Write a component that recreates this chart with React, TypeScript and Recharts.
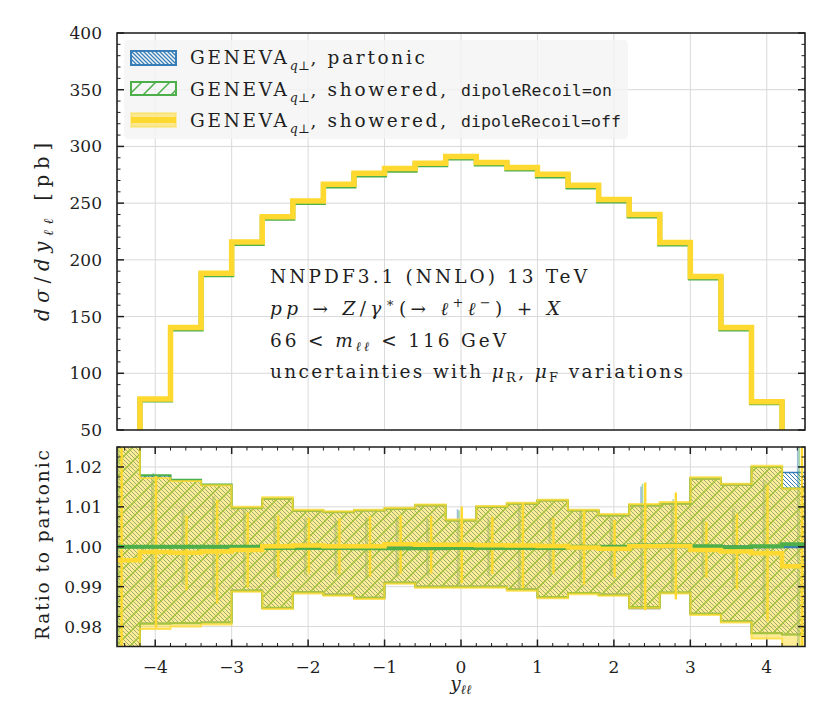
import React from "react";
import {
  ComposedChart,
  Line,
  Area,
  Scatter,
  ErrorBar,
  XAxis,
  YAxis,
  ReferenceLine,
  ReferenceArea,
} from "recharts";

// bin edges of the histogram (outer bins run past the axis range)
const EDGES = [-4.7, -4.2, -3.8, -3.4, -3.0, -2.6, -2.2, -1.8, -1.4, -1.0, -0.6, -0.2, 0.2, 0.6, 1.0, 1.4, 1.8, 2.2, 2.6, 3.0, 3.4, 3.8, 4.2, 4.7];
const CENTERS = [-4.45, -4.0, -3.6, -3.2, -2.8, -2.4, -2.0, -1.6, -1.2, -0.8, -0.4, 0, 0.4, 0.8, 1.2, 1.6, 2.0, 2.4, 2.8, 3.2, 3.6, 4.0, 4.45];

// dsigma/dy [pb]
const BLUE_TOP = [30, 77.3, 140.2, 188.2, 215.6, 237.8, 251.6, 266.4, 276.0, 280.3, 285.0, 290.8, 285.5, 281.1, 275.1, 265.5, 253.1, 239.8, 215.0, 185.2, 140.2, 74.9, 30];
const GREEN_TOP = [30, 76.4, 139.0, 186.9, 214.4, 236.7, 250.5, 265.2, 274.9, 279.1, 283.8, 289.7, 284.4, 280.0, 274.0, 264.3, 251.9, 238.6, 213.9, 184.0, 139.1, 74.0, 30];
const YELLOW_TOP = [30, 77.4, 140.3, 188.3, 215.8, 238.0, 251.8, 266.6, 276.3, 280.5, 285.2, 291.1, 285.8, 281.4, 275.4, 265.7, 253.3, 240.0, 215.2, 185.3, 140.3, 75.0, 30];

// ratio to partonic, central values
const BLUE_RATIO = [1, 1, 1, 1, 1, 1, 1, 1, 1, 1, 1, 1, 1, 1, 1, 1, 1, 1, 1, 1, 1, 1, 1];
const GREEN_RATIO = [1.0, 1.0, 1.0, 1.0, 1.0, 0.9997, 0.9997, 0.9997, 0.9996, 0.9996, 0.9996, 0.9997, 0.9997, 0.9997, 0.9997, 1.0, 1.0, 1.0003, 1.0004, 1.0001, 0.9999, 1.0001, 1.0006];
const YELLOW_RATIO = [0.9966, 0.9987, 0.9985, 0.9988, 0.9992, 1.0001, 1.0003, 1.0001, 1.0001, 1.0006, 1.0005, 1.0005, 1.0004, 1.0003, 1.0002, 0.9998, 0.9995, 1.0001, 1.0002, 0.9992, 0.9988, 0.9984, 0.9951];

// scale-variation bands
const BLUE_HI = [1.04, 1.0178, 1.0167, 1.0155, 1.0096, 1.0119, 1.0089, 1.0086, 1.0090, 1.0094, 1.0103, 1.0065, 1.0099, 1.0107, 1.0115, 1.0090, 1.0078, 1.0103, 1.0107, 1.0170, 1.0155, 1.0199, 1.0186];
const BLUE_LO = [0.96, 0.9808, 0.9809, 0.9811, 0.9891, 0.9846, 0.9887, 0.9881, 0.9873, 0.9911, 0.9901, 0.9901, 0.9901, 0.9894, 0.9873, 0.9885, 0.9881, 0.9845, 0.9885, 0.9833, 0.9814, 0.9784, 0.9780];
const GREEN_HI = [1.04, 1.0179, 1.0168, 1.0156, 1.0097, 1.0120, 1.0090, 1.0087, 1.0091, 1.0095, 1.0104, 1.0066, 1.0100, 1.0108, 1.0116, 1.0091, 1.0079, 1.0104, 1.0108, 1.0171, 1.0156, 1.0200, 1.0146];
const GREEN_LO = [0.96, 0.9807, 0.9808, 0.9810, 0.9890, 0.9847, 0.9886, 0.9880, 0.9872, 0.9910, 0.9900, 0.9900, 0.9900, 0.9893, 0.9874, 0.9884, 0.9880, 0.9849, 0.9886, 0.9832, 0.9813, 0.9783, 0.9780];
const YELLOW_HI = [1.04, 1.0172, 1.0165, 1.0154, 1.0100, 1.0124, 1.0093, 1.0089, 1.0093, 1.0098, 1.0106, 1.0068, 1.0102, 1.0110, 1.0118, 1.0093, 1.0082, 1.0107, 1.0112, 1.0174, 1.0158, 1.0203, 1.0146];
const YELLOW_LO = [0.96, 0.9794, 0.9800, 0.9805, 0.9887, 0.9844, 0.9883, 0.9877, 0.9869, 0.9907, 0.9897, 0.9897, 0.9897, 0.9890, 0.9871, 0.9881, 0.9877, 0.9846, 0.9883, 0.9829, 0.9810, 0.9770, 0.9700];

// statistical errors, [down, up]; the outer bins run off the panel
const BLUE_ERR = [[0.025, 0.025], 0.018, 0.0095, 0.0125, 0.0095, 0.0078, 0.0071, 0.0072, 0.0075, 0.0074, 0.0071, 0.0094, 0.0073, 0.0105, 0.0071, 0.0092, 0.0073, 0.0151, 0.0112, 0.0072, 0.0094, 0.0168, [0.025, 0.025]];
const GREEN_ERR = [[0.025, 0.025], 0.0185, 0.0096, 0.0128, 0.0092, 0.0079, 0.0072, 0.0069, 0.0077, 0.0072, 0.0074, 0.0094, 0.0071, 0.0104, 0.0072, 0.0091, 0.0074, 0.0155, 0.0115, 0.0071, 0.0097, 0.0165, [0.0256, 0.0244]];
const YELLOW_ERR = [[0.0216, 0.0284], 0.019, 0.0094, 0.013, 0.0094, 0.0077, 0.007, 0.007, 0.0076, 0.0073, 0.0072, 0.0096, 0.0072, 0.0107, 0.007, 0.0093, 0.0072, 0.016, 0.0134, 0.007, 0.0095, 0.017, [0.0201, 0.0299]];

// ticks
const X_TICKS = [-4, -3, -2, -1, 0, 1, 2, 3, 4];
const TOP_Y_TICKS = [50, 100, 150, 200, 250, 300, 350, 400];
const RATIO_Y_TICKS = [0.98, 0.99, 1.0, 1.01, 1.02];

// legend
const LEGEND_TAILS = [", partonic", ", showered,", ", showered,"];
const LEGEND_MONO = ["", "dipoleRecoil=on", "dipoleRecoil=off"];

const FONT = "'DejaVu Serif', 'Liberation Serif', serif";
const MONO = "'DejaVu Sans Mono', 'Liberation Mono', monospace";
const BLUE = "#377eb8";
const GREEN = "#4daf4a";
const YELLOW = "#ffd92f";
const INK = "#1f1f1f";
const GRID = "#d9d9d9";

const PLOT_RIGHT = 805;

function withMinor(major: number[], parts: number, lo: number, hi: number) {
  const step = (major[1] - major[0]) / parts;
  const out: number[] = [];
  const n0 = Math.round(lo / step);
  const n1 = Math.round(hi / step);
  for (let n = n0; n <= n1; n++) out.push(+(n * step).toFixed(6));
  return out;
}

const X_ALL = withMinor(X_TICKS, 5, -4.4, 4.4);
const TOP_Y_ALL = withMinor(TOP_Y_TICKS, 5, 50, 400);
const RATIO_Y_ALL = withMinor(RATIO_Y_TICKS, 4, 0.975, 1.025);

const isMajor = (list: number[], v: number) => list.some((t) => Math.abs(t - v) < 1e-6);
const fmtX = (v: number) => (v < 0 ? `\u2212${-v}` : `${v}`);

const makeXTick = (plotTop: number, labels: boolean) => (props: any) => {
  const { x, y, payload } = props;
  const major = isMajor(X_TICKS, payload.value);
  const len = major ? 7 : 3.5;
  const w = major ? 1.5 : 1;
  return (
    <g>
      <line x1={x} x2={x} y1={y} y2={y - len} stroke={INK} strokeWidth={w} />
      <line x1={x} x2={x} y1={plotTop} y2={plotTop + len} stroke={INK} strokeWidth={w} />
      {labels && major && (
        <text x={x} y={y + 26} textAnchor="middle" fontFamily={FONT} fontSize={17} fill={INK}>
          {fmtX(payload.value)}
        </text>
      )}
    </g>
  );
};

const makeYTick = (majors: number[], fmt: (v: number) => string) => (props: any) => {
  const { x, y, payload } = props;
  const major = isMajor(majors, payload.value);
  const len = major ? 7 : 3.5;
  const w = major ? 1.5 : 1;
  return (
    <g>
      <line x1={x} x2={x + len} y1={y} y2={y} stroke={INK} strokeWidth={w} />
      <line x1={PLOT_RIGHT - len} x2={PLOT_RIGHT} y1={y} y2={y} stroke={INK} strokeWidth={w} />
      {major && (
        <text x={x - 15} y={y + 6} textAnchor="end" fontFamily={FONT} fontSize={17} fill={INK}>
          {fmt(payload.value)}
        </text>
      )}
    </g>
  );
};

const hideDot = () => <g />;

export default function App() {
  const last = CENTERS.length - 1;
  const topRows = EDGES.map((x, i) => {
    const j = Math.min(i, last);
    return { x, blue: BLUE_TOP[j], green: GREEN_TOP[j], yellow: YELLOW_TOP[j] };
  });
  const ratioRows = EDGES.map((x, i) => {
    const j = Math.min(i, last);
    return {
      x,
      blue: BLUE_RATIO[j],
      green: GREEN_RATIO[j],
      yellow: YELLOW_RATIO[j],
      blueBand: [BLUE_LO[j], BLUE_HI[j]],
      greenBand: [GREEN_LO[j], GREEN_HI[j]],
      yellowBand: [YELLOW_LO[j], YELLOW_HI[j]],
    };
  });
  // small horizontal offsets so the three error bars of a bin sit side by side
  const blueErr = CENTERS.map((c, i) => ({ x: c - 0.045, y: BLUE_RATIO[i], err: BLUE_ERR[i] }));
  const greenErr = CENTERS.map((c, i) => ({ x: c - 0.025, y: GREEN_RATIO[i], err: GREEN_ERR[i] }));
  const yellowErr = CENTERS.map((c, i) => ({ x: c + 0.01, y: YELLOW_RATIO[i], err: YELLOW_ERR[i] }));

  const txt = { fontFamily: FONT, fontSize: 18.5, fill: INK } as const;

  return (
    <div style={{ position: "absolute", left: 0, top: 0, width: 830, height: 720, background: "#fff" }}>
      <div style={{ position: "absolute", left: 0, top: 0 }}>
        <ComposedChart width={830} height={440} data={topRows} margin={{ top: 33, right: 25, bottom: 10, left: 0 }}>
          <XAxis dataKey="x" type="number" domain={[-4.5, 4.5]} allowDataOverflow ticks={X_ALL} interval={0}
            height={0} tickSize={0} tickMargin={0} axisLine={false} tickLine={false} tick={makeXTick(33, false)} zIndex={700} />
          <YAxis type="number" domain={[50, 400]} allowDataOverflow ticks={TOP_Y_ALL} interval={0}
            width={117} tickSize={0} tickMargin={0} axisLine={false} tickLine={false}
            tick={makeYTick(TOP_Y_TICKS, (v) => `${v}`)} zIndex={700} />
          {X_TICKS.map((v) => (
            <ReferenceLine key={`gx${v}`} x={v} stroke={GRID} strokeWidth={1} zIndex={-100} />
          ))}
          {TOP_Y_TICKS.map((v) => (
            <ReferenceLine key={`gy${v}`} y={v} stroke={GRID} strokeWidth={1} zIndex={-100} />
          ))}
          <Line dataKey="blue" type="stepAfter" stroke={BLUE} strokeWidth={3} dot={false} activeDot={false} isAnimationActive={false} zIndex={400} />
          <Line dataKey="green" type="stepAfter" stroke={GREEN} strokeWidth={5} dot={false} activeDot={false} isAnimationActive={false} zIndex={401} />
          <Line dataKey="yellow" type="stepAfter" stroke={YELLOW} strokeWidth={5.5} dot={false} activeDot={false} isAnimationActive={false} zIndex={402} />
          <ReferenceArea x1={-4.5} x2={4.5} y1={50} y2={400} fill="none" fillOpacity={0} stroke={INK} strokeWidth={1.6} zIndex={800} />
        </ComposedChart>
      </div>

      <div style={{ position: "absolute", left: 0, top: 440 }}>
        <ComposedChart width={830} height={280} data={ratioRows} margin={{ top: 7, right: 25, bottom: 13.5, left: 0 }}>
          <defs>
            <pattern id="hatchBlue" patternUnits="userSpaceOnUse" width="4" height="4">
              <path d="M-1,-1 L5,5 M-1,3 L1,5 M3,-1 L5,1" stroke={BLUE} strokeWidth={1} />
            </pattern>
            <pattern id="hatchGreen" patternUnits="userSpaceOnUse" width="14" height="14">
              <path d="M-1,15 L15,-1 M-1,1 L1,-1 M13,15 L15,13" stroke={GREEN} strokeWidth={1.5} />
            </pattern>
          </defs>
          <XAxis dataKey="x" type="number" domain={[-4.5, 4.5]} allowDataOverflow ticks={X_ALL} interval={0}
            height={60} tickSize={0} tickMargin={0} axisLine={false} tickLine={false} tick={makeXTick(7, true)} zIndex={700} />
          <YAxis type="number" domain={[0.975, 1.025]} allowDataOverflow ticks={RATIO_Y_ALL} interval={0}
            width={117} tickSize={0} tickMargin={0} axisLine={false} tickLine={false}
            tick={makeYTick(RATIO_Y_TICKS, (v) => v.toFixed(2))} zIndex={700} />
          {X_TICKS.map((v) => (
            <ReferenceLine key={`rx${v}`} x={v} stroke={GRID} strokeWidth={1} zIndex={-100} />
          ))}
          {RATIO_Y_TICKS.map((v) => (
            <ReferenceLine key={`ry${v}`} y={v} stroke={GRID} strokeWidth={1} zIndex={-100} />
          ))}
          <Area dataKey="blueBand" type="stepAfter" fill="url(#hatchBlue)" fillOpacity={1} stroke={BLUE} strokeWidth={1.5}
            dot={false} activeDot={false} isAnimationActive={false} zIndex={100} />
          <Area dataKey="greenBand" type="stepAfter" fill="url(#hatchGreen)" fillOpacity={1} stroke={GREEN} strokeWidth={2}
            dot={false} activeDot={false} isAnimationActive={false} zIndex={101} />
          <Scatter data={blueErr} dataKey="y" shape={hideDot} isAnimationActive={false} zIndex={102}>
            <ErrorBar dataKey="err" direction="y" width={0} stroke={BLUE} strokeOpacity={0.5} strokeWidth={1.6} isAnimationActive={false} zIndex={102} />
          </Scatter>
          <Scatter data={greenErr} dataKey="y" shape={hideDot} isAnimationActive={false} zIndex={103}>
            <ErrorBar dataKey="err" direction="y" width={0} stroke={GREEN} strokeOpacity={0.5} strokeWidth={1.6} isAnimationActive={false} zIndex={103} />
          </Scatter>
          <Area dataKey="yellowBand" type="stepAfter" fill={YELLOW} fillOpacity={0.5} stroke={YELLOW} strokeOpacity={0.75} strokeWidth={2}
            dot={false} activeDot={false} isAnimationActive={false} zIndex={104} />
          <Scatter data={yellowErr} dataKey="y" shape={hideDot} isAnimationActive={false} zIndex={105}>
            <ErrorBar dataKey="err" direction="y" width={0} stroke={YELLOW} strokeWidth={2.4} isAnimationActive={false} zIndex={105} />
          </Scatter>
          <Line dataKey="blue" type="stepAfter" stroke={BLUE} strokeWidth={3} dot={false} activeDot={false} isAnimationActive={false} zIndex={400} />
          <Line dataKey="green" type="stepAfter" stroke={GREEN} strokeWidth={4} dot={false} activeDot={false} isAnimationActive={false} zIndex={401} />
          <Line dataKey="yellow" type="stepAfter" stroke={YELLOW} strokeWidth={4.5} dot={false} activeDot={false} isAnimationActive={false} zIndex={402} />
          <ReferenceArea x1={-4.5} x2={4.5} y1={0.975} y2={1.025} fill="none" fillOpacity={0} stroke={INK} strokeWidth={1.6} zIndex={800} />
        </ComposedChart>
      </div>

      <svg width={830} height={720} style={{ position: "absolute", left: 0, top: 0, pointerEvents: "none" }}>
        <defs>
          <pattern id="legBlue" patternUnits="userSpaceOnUse" width="4" height="4">
            <path d="M-1,-1 L5,5 M-1,3 L1,5 M3,-1 L5,1" stroke={BLUE} strokeWidth={1.3} />
          </pattern>
          <pattern id="legGreen" patternUnits="userSpaceOnUse" width="14" height="14">
            <path d="M-1,15 L15,-1 M-1,1 L1,-1 M13,15 L15,13" stroke={GREEN} strokeWidth={1.5} />
          </pattern>
        </defs>

        {/* legend */}
        <rect x={124} y={40} width={504} height={99} rx={4} fill="#f4f4f4" fillOpacity={0.8} />
        <rect x={131} y={51} width={45} height={14} fill="url(#legBlue)" stroke={BLUE} strokeWidth={2} />
        <rect x={131} y={82} width={45} height={13} fill="url(#legGreen)" stroke={GREEN} strokeWidth={2} />
        <rect x={131} y={113} width={45} height={14} fill={YELLOW} fillOpacity={0.5} stroke={YELLOW} strokeOpacity={0.5} strokeWidth={1.5} />
        <line x1={131} x2={176} y1={120} y2={120} stroke={YELLOW} strokeWidth={6} />

        {[64, 95.5, 127].map((b, k) => (
          <g key={b}>
            <text {...txt} x={190} y={b} letterSpacing={2.7}>
              <tspan>GENEVA</tspan>
              <tspan dy={6} fontSize={12.5} letterSpacing={0.5}>
                <tspan fontStyle="italic">q</tspan>⊥
              </tspan>
              <tspan dy={-6}>{LEGEND_TAILS[k]}</tspan>
            </text>
            {LEGEND_MONO[k] && (
              <text x={461} y={b} fontFamily={MONO} fontSize={16.5} fill={INK} textLength={k === 1 ? 151 : 160} lengthAdjust="spacing">
                {LEGEND_MONO[k]}
              </text>
            )}
          </g>
        ))}

        {/* annotation */}
        <text {...txt} x={270} y={283} textLength={317} lengthAdjust="spacing">NNPDF3.1 (NNLO) 13 TeV</text>
        <text {...txt} x={270} y={315} textLength={290} lengthAdjust="spacing">
          <tspan fontStyle="italic">pp</tspan>
          <tspan>{" \u2192 "}</tspan>
          <tspan fontStyle="italic">Z</tspan>
          <tspan>/</tspan>
          <tspan fontStyle="italic">γ</tspan>
          <tspan dy={-8} fontSize={13}>∗</tspan>
          <tspan dy={8}>{"(\u2192 "}</tspan>
          <tspan fontStyle="italic">ℓ</tspan>
          <tspan dy={-8} fontSize={13}>+</tspan>
          <tspan dy={8} fontStyle="italic">ℓ</tspan>
          <tspan dy={-8} fontSize={13}>−</tspan>
          <tspan dy={8}>{") + "}</tspan>
          <tspan fontStyle="italic">X</tspan>
        </text>
        <text {...txt} x={270} y={347} textLength={236} lengthAdjust="spacing">
          <tspan>{"66 < "}</tspan>
          <tspan fontStyle="italic">m</tspan>
          <tspan dy={4} fontSize={13} fontStyle="italic">ℓℓ</tspan>
          <tspan dy={-4}>{" < 116 GeV"}</tspan>
        </text>
        <text {...txt} x={270} y={377.5} textLength={413} lengthAdjust="spacing">
          <tspan>{"uncertainties with "}</tspan>
          <tspan fontStyle="italic">μ</tspan>
          <tspan dy={4} fontSize={13}>R</tspan>
          <tspan dy={-4}>{", "}</tspan>
          <tspan fontStyle="italic">μ</tspan>
          <tspan dy={4} fontSize={13}>F</tspan>
          <tspan dy={-4}>{" variations"}</tspan>
        </text>

        {/* axis titles */}
        <text {...txt} x={49} y={232} fontSize={19.5} textAnchor="middle" transform="rotate(-90 49 232)" textLength={178} lengthAdjust="spacing">
          <tspan fontStyle="italic">dσ</tspan>
          <tspan>/</tspan>
          <tspan fontStyle="italic">dy</tspan>
          <tspan dy={4} fontSize={13.5} fontStyle="italic">ℓℓ</tspan>
          <tspan dy={-4}>{" [pb]"}</tspan>
        </text>
        <text {...txt} x={49} y={545} textAnchor="middle" transform="rotate(-90 49 545)" textLength={190} lengthAdjust="spacing">
          Ratio to partonic
        </text>
        <text {...txt} x={461} y={690} textAnchor="middle">
          <tspan fontStyle="italic">y</tspan>
          <tspan dy={4} fontSize={13} fontStyle="italic">ℓℓ</tspan>
        </text>
      </svg>
    </div>
  );
}
